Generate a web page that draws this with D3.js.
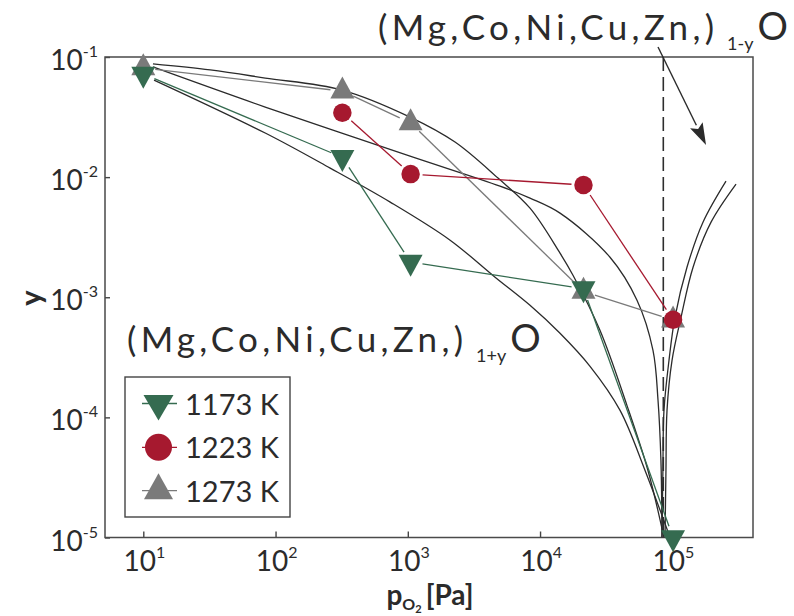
<!DOCTYPE html>
<html>
<head>
<meta charset="utf-8">
<script src="https://cdn.jsdelivr.net/npm/d3@7"></script>
<style>
  html, body { margin: 0; padding: 0; background: #fff; }
  svg { display: block; font-family: Lato, "Open Sans", sans-serif; }
</style>
</head>
<body>
<svg id="chart" width="794" height="616"></svg>
<script>
// Oxygen partial pressure of the annealing atmospheres (Pa)
const pO2 = [10, 320, 1050, 21300, 101300];

// Measured deviation from stoichiometry y at each pO2
const seriesNames = ["1173 K", "1223 K", "1273 K"];
const y1173 = [0.0722, 0.0146, 0.00196, 0.00118, 1.0e-5];
const y1223 = [null, 0.0343, 0.0106, 0.0086, 0.00065];
const y1273 = [0.081, 0.052, 0.0283, 0.00112, 0.000645];

// Tick exponents
const xTickExp = [1, 2, 3, 4, 5];
const yTickExp = [-1, -2, -3, -4, -5];

// Defect-model curves, points given as [log10 pO2, log10 y]
const modelUpper = [[1.073,-1.058],[1.506,-1.108],[1.922,-1.175],[2.502,-1.275],[3.017,-1.50],
  [3.357,-1.708],[3.682,-2.008],[3.924,-2.258],[4.151,-2.633],[4.249,-2.817],[4.453,-3.275],
  [4.657,-3.90],[4.816,-4.442],[4.937,-5.0]];
const modelMiddle = [[1.073,-1.083],[1.922,-1.417],[3.017,-1.825],[3.697,-2.075],[3.924,-2.175],
  [4.151,-2.30],[4.529,-2.667],[4.733,-3.025],[4.854,-3.442],[4.892,-3.858],[4.914,-4.358],[4.922,-5.0]];
const modelLower = [[1.081,-1.192],[1.922,-1.633],[2.413,-1.925],[2.867,-2.208],[3.32,-2.525],
  [3.66,-2.833],[3.924,-3.067],[4.151,-3.30],[4.378,-3.575],[4.605,-3.942],[4.794,-4.442],[4.983,-5.0]];
const modelRightA = [[4.922,-5.0],[4.929,-4.442],[4.937,-3.942],[4.975,-3.525],[5.02,-3.167],
  [5.111,-2.75],[5.232,-2.375],[5.406,-2.033]];
const modelRightB = [[4.945,-5.0],[4.952,-4.442],[4.96,-3.942],[4.998,-3.525],[5.066,-3.167],
  [5.157,-2.75],[5.293,-2.375],[5.482,-2.058]];

// Stoichiometric point (log10 pO2) and arrow end points [log10 pO2, log10 y]
const logPStar = 4.932;
const arrowFrom = [4.892, -0.917];
const arrowTo = [5.255, -1.733];

const colors = { "1173 K": "#356b50", "1223 K": "#a6192f", "1273 K": "#7a7a7a" };
const ink = "#2b2b2b";

const svg = d3.select("#chart");
const plot = { left: 105, top: 57, right: 753, bottom: 537.5 };

const x = d3.scaleLog().domain([10 ** 0.7104, 10 ** 5.6102]).range([plot.left, plot.right]);
const y = d3.scaleLog().domain([1e-5, 1e-1]).range([plot.bottom, plot.top]);

svg.append("defs").append("clipPath").attr("id", "plotClip")
  .append("rect").attr("x", plot.left).attr("y", plot.top)
  .attr("width", plot.right - plot.left).attr("height", plot.bottom - plot.top);

// Axes: inward ticks on bottom and left only
const xAxis = d3.axisBottom(x).tickValues(xTickExp.map(e => 10 ** e)).tickSize(-6).tickFormat("");
const yAxis = d3.axisLeft(y).tickValues(yTickExp.map(e => 10 ** e)).tickSize(-5).tickFormat("");
const gx = svg.append("g").attr("transform", `translate(0,${plot.bottom})`).call(xAxis);
const gy = svg.append("g").attr("transform", `translate(${plot.left},0)`).call(yAxis);
[gx, gy].forEach(g => {
  g.select(".domain").remove();
  g.selectAll(".tick line").attr("stroke", "#444").attr("stroke-width", 1.4);
});

// Tick labels written as powers of ten
xTickExp.forEach(e => {
  const t = svg.append("text").attr("x", x(10 ** e) + 1).attr("y", 571)
    .attr("text-anchor", "middle").attr("fill", ink).attr("font-size", 28);
  t.append("tspan").text("10");
  t.append("tspan").attr("font-size", 16).attr("dy", -13).text(e);
});
yTickExp.forEach(e => {
  const t = svg.append("text").attr("x", 98).attr("y", y(10 ** e) + 13)
    .attr("text-anchor", "end").attr("fill", ink).attr("font-size", 28);
  t.append("tspan").text("10");
  t.append("tspan").attr("font-size", 16).attr("dy", -13).text(e);
});

// Frame
svg.append("rect").attr("x", plot.left).attr("y", plot.top)
  .attr("width", plot.right - plot.left).attr("height", plot.bottom - plot.top)
  .attr("fill", "none").attr("stroke", "#4a4a4a").attr("stroke-width", 1.5);

const curves = svg.append("g").attr("clip-path", "url(#plotClip)");

// Stoichiometric point
curves.append("line")
  .attr("x1", x(10 ** logPStar)).attr("x2", x(10 ** logPStar))
  .attr("y1", y(1e-1)).attr("y2", y(1e-5))
  .attr("stroke", "#2e2e2e").attr("stroke-width", 1.6).attr("stroke-dasharray", "14 6");

// Model curves
const modelLine = d3.line()
  .x(d => x(10 ** d[0])).y(d => y(10 ** d[1]))
  .curve(d3.curveCatmullRom.alpha(0.5));
[modelUpper, modelMiddle, modelLower, modelRightA, modelRightB].forEach(c => {
  curves.append("path").attr("d", modelLine(c))
    .attr("fill", "none").attr("stroke", ink).attr("stroke-width", 1.3);
});

// Measured series: connecting segments leave a gap around each marker
const series = [
  { name: "1273 K", values: y1273, shape: "up" },
  { name: "1223 K", values: y1223, shape: "circle" },
  { name: "1173 K", values: y1173, shape: "down" }
];
const gap = 12;
series.forEach(s => {
  const pts = pO2.map((p, i) => [p, s.values[i]]).filter(d => d[1] != null)
    .map(d => [x(d[0]), y(d[1])]);
  for (let i = 0; i < pts.length - 1; i++) {
    const [x0, y0] = pts[i], [x1, y1] = pts[i + 1];
    const len = Math.hypot(x1 - x0, y1 - y0);
    const ux = (x1 - x0) / len, uy = (y1 - y0) / len;
    svg.append("line")
      .attr("x1", x0 + ux * gap).attr("y1", y0 + uy * gap)
      .attr("x2", x1 - ux * gap).attr("y2", y1 - uy * gap)
      .attr("stroke", colors[s.name]).attr("stroke-width", 1.3);
  }
});

function markerPath(shape, w, h) {
  if (shape === "up") return `M0,${-2 * h / 3}L${w / 2},${h / 3}L${-w / 2},${h / 3}Z`;
  if (shape === "down") return `M0,${2 * h / 3}L${w / 2},${-h / 3}L${-w / 2},${-h / 3}Z`;
  const r = w / 2;
  return `M${r},0A${r},${r} 0 1,1 ${-r},0A${r},${r} 0 1,1 ${r},0Z`;
}
const plotSize = { up: [24, 22], down: [24, 22], circle: [18.5, 18.5] };
series.forEach(s => {
  const [w, h] = plotSize[s.shape];
  pO2.forEach((p, i) => {
    if (s.values[i] == null) return;
    svg.append("path").attr("d", markerPath(s.shape, w, h))
      .attr("transform", `translate(${x(p)},${y(s.values[i])})`)
      .attr("fill", colors[s.name]);
  });
});

// Arrow pointing at the metal-deficient branch
const ax0 = x(10 ** arrowFrom[0]), ay0 = y(10 ** arrowFrom[1]);
const ax1 = x(10 ** arrowTo[0]), ay1 = y(10 ** arrowTo[1]);
{
  const len = Math.hypot(ax1 - ax0, ay1 - ay0);
  const ux = (ax1 - ax0) / len, uy = (ay1 - ay0) / len;
  const headL = 22, headW = 7;
  const bx = ax1 - ux * headL, by = ay1 - uy * headL;
  svg.append("line").attr("x1", ax0).attr("y1", ay0).attr("x2", bx).attr("y2", by)
    .attr("stroke", ink).attr("stroke-width", 1.4);
  svg.append("path")
    .attr("d", `M${ax1},${ay1}L${bx - uy * headW},${by + ux * headW}L${bx + ux * 4},${by + uy * 4}L${bx + uy * headW},${by - ux * headW}Z`)
    .attr("fill", ink);
}

// Phase formulas
function formula(xPos, yPos, sub) {
  const t = svg.append("text").attr("x", xPos).attr("y", yPos)
    .attr("fill", ink).attr("font-size", 35);
  t.append("tspan").attr("letter-spacing", 4.3).text("(Mg,Co,Ni,Cu,Zn,");
  t.append("tspan").text(")");
  t.append("tspan").attr("font-size", 18).attr("dx", 13).attr("dy", 10).text(sub);
  t.append("tspan").attr("font-size", 38).attr("dx", 4).attr("dy", -10).text("O");
}
formula(378, 40, "1-y");
formula(127, 352, "1+y");

// Legend
const legend = svg.append("g");
legend.append("rect").attr("x", 125).attr("y", 377).attr("width", 165).attr("height", 140)
  .attr("fill", "#fff").attr("stroke", "#444").attr("stroke-width", 1.4);
const legendRows = [
  { name: seriesNames[0], shape: "down", size: [30, 25.5], cy: 403.5 },
  { name: seriesNames[1], shape: "circle", size: [27, 27], cy: 447.3 },
  { name: seriesNames[2], shape: "up", size: [29, 26], cy: 490.6 }
];
legendRows.forEach(r => {
  legend.append("line").attr("x1", 142).attr("x2", 177).attr("y1", r.cy).attr("y2", r.cy)
    .attr("stroke", colors[r.name]).attr("stroke-width", 1.3);
  legend.append("path").attr("d", markerPath(r.shape, r.size[0], r.size[1]))
    .attr("transform", `translate(158.5,${r.cy})`).attr("fill", colors[r.name]);
  legend.append("text").attr("x", 185).attr("y", r.cy + 11)
    .attr("fill", ink).attr("font-size", 29).text(r.name);
});

// Axis titles
const xt = svg.append("text").attr("x", 430).attr("y", 605).attr("text-anchor", "middle")
  .attr("fill", ink).attr("font-weight", "bold").attr("font-size", 28);
xt.append("tspan").text("p");
xt.append("tspan").attr("font-size", 16).attr("dy", 5).text("O");
xt.append("tspan").attr("font-size", 11).attr("dy", 3).text("2");
xt.append("tspan").attr("dy", -8).attr("dx", 4).text("[Pa]");

svg.append("text").attr("transform", "translate(41,298) rotate(-90)")
  .attr("text-anchor", "middle").attr("fill", ink).attr("font-weight", "bold")
  .attr("font-size", 29).text("y");
</script>
</body>
</html>
